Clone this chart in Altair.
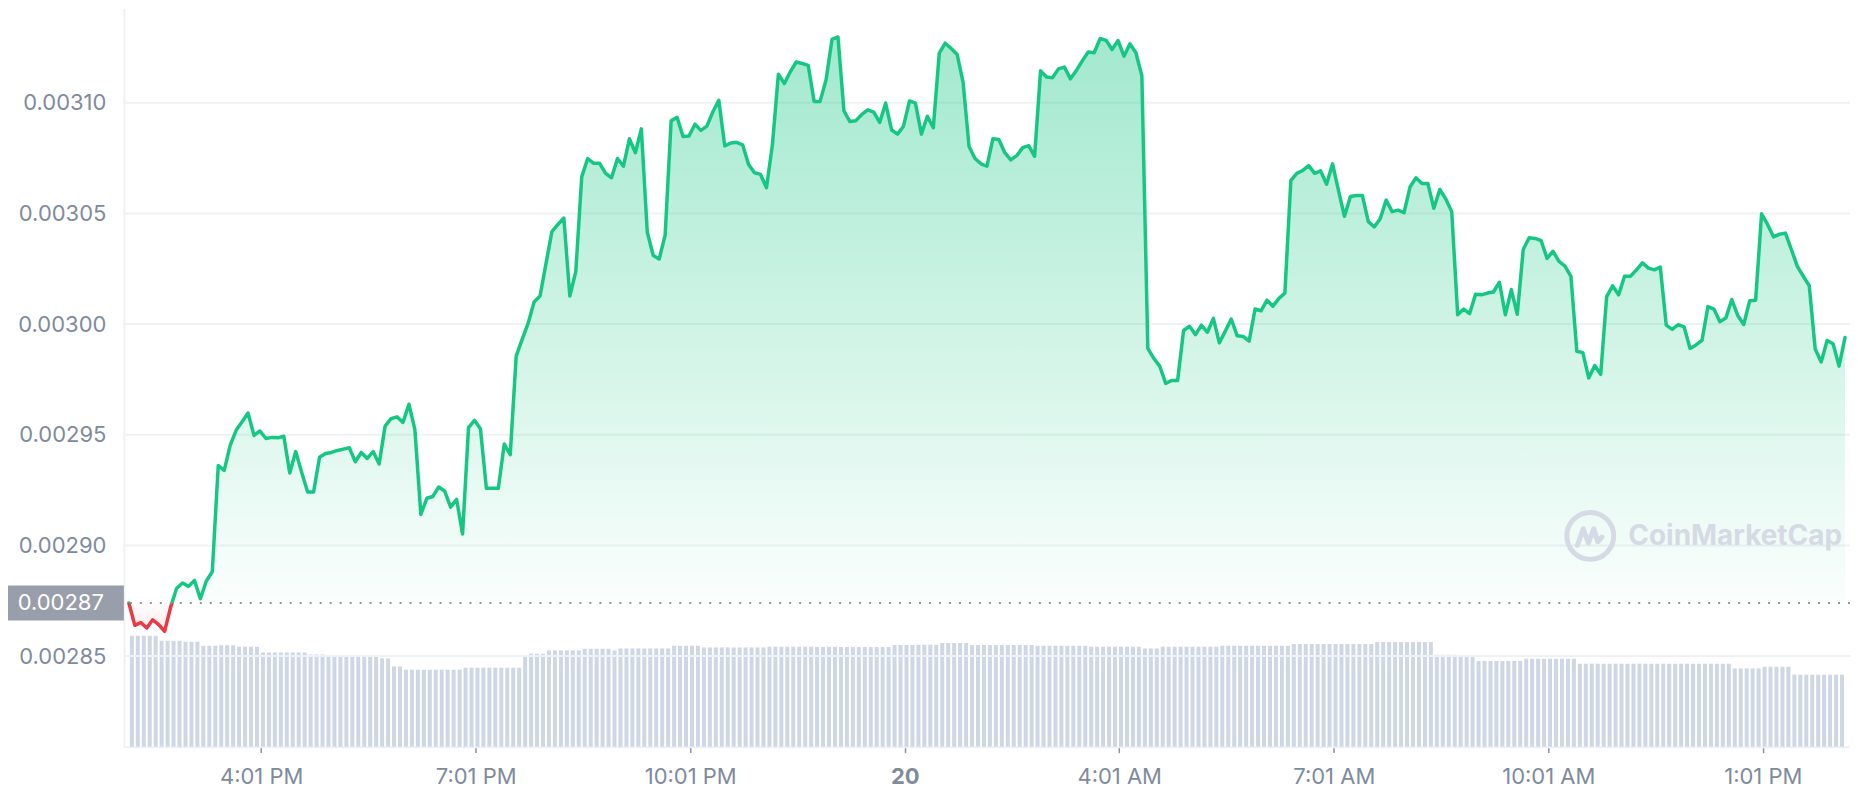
import json
import altair as alt
import pandas as pd

# ---- price series (5-minute steps, 24h) ----
prices = [
    0.0028740, 0.0028639, 0.0028652, 0.0028627, 0.0028664, 0.0028642, 0.0028612, 0.0028720, 0.0028805, 0.0028830,
    0.0028815, 0.0028842, 0.0028759, 0.0028839, 0.0028881, 0.0029361, 0.0029339, 0.0029452, 0.0029520, 0.0029559,
    0.0029598, 0.0029497, 0.0029517, 0.0029483, 0.0029488, 0.0029486, 0.0029493, 0.0029327, 0.0029424, 0.0029330,
    0.0029241, 0.0029241, 0.0029398, 0.0029415, 0.0029420, 0.0029429, 0.0029435, 0.0029441, 0.0029378, 0.0029420,
    0.0029393, 0.0029424, 0.0029368, 0.0029539, 0.0029573, 0.0029581, 0.0029556, 0.0029638, 0.0029523, 0.0029140,
    0.0029213, 0.0029221, 0.0029264, 0.0029245, 0.0029173, 0.0029208, 0.0029052, 0.0029532, 0.0029565, 0.0029527,
    0.0029258, 0.0029258, 0.0029258, 0.0029458, 0.0029410, 0.0029855, 0.0029931, 0.0030003, 0.0030100, 0.0030127,
    0.0030273, 0.0030418, 0.0030450, 0.0030479, 0.0030127, 0.0030237, 0.0030665, 0.0030748, 0.0030726, 0.0030726,
    0.0030681, 0.0030661, 0.0030748, 0.0030713, 0.0030837, 0.0030774, 0.0030882, 0.0030415, 0.0030310, 0.0030294,
    0.0030402, 0.0030918, 0.0030934, 0.0030847, 0.0030850, 0.0030903, 0.0030875, 0.0030894, 0.0030958, 0.0031011,
    0.0030805, 0.0030818, 0.0030821, 0.0030810, 0.0030721, 0.0030684, 0.0030676, 0.0030616, 0.0030810, 0.0031129,
    0.0031087, 0.0031140, 0.0031184, 0.0031177, 0.0031169, 0.0031006, 0.0031006, 0.0031103, 0.0031286, 0.0031297,
    0.0030963, 0.0030915, 0.0030919, 0.0030947, 0.0030968, 0.0030958, 0.0030911, 0.0030998, 0.0030877, 0.0030858,
    0.0030894, 0.0031008, 0.0030998, 0.0030858, 0.0030939, 0.0030887, 0.0031224, 0.0031269, 0.0031245, 0.0031218,
    0.0031092, 0.0030802, 0.0030748, 0.0030724, 0.0030713, 0.0030837, 0.0030834, 0.0030774, 0.0030742, 0.0030761,
    0.0030797, 0.0030806, 0.0030758, 0.0031144, 0.0031116, 0.0031113, 0.0031153, 0.0031161, 0.0031108, 0.0031145,
    0.0031189, 0.0031229, 0.0031226, 0.0031290, 0.0031282, 0.0031240, 0.0031281, 0.0031210, 0.0031266, 0.0031226,
    0.0031121, 0.0029890, 0.0029845, 0.0029810, 0.0029732, 0.0029745, 0.0029745, 0.0029971, 0.0029990, 0.0029952,
    0.0029995, 0.0029963, 0.0030026, 0.0029915, 0.0029968, 0.0030023, 0.0029947, 0.0029944, 0.0029923, 0.0030068,
    0.0030060, 0.0030108, 0.0030081, 0.0030116, 0.0030140, 0.0030648, 0.0030681, 0.0030694, 0.0030716, 0.0030681,
    0.0030692, 0.0030632, 0.0030724, 0.0030603, 0.0030487, 0.0030576, 0.0030581, 0.0030581, 0.0030463, 0.0030439,
    0.0030476, 0.0030560, 0.0030508, 0.0030515, 0.0030503, 0.0030619, 0.0030661, 0.0030635, 0.0030635, 0.0030523,
    0.0030608, 0.0030565, 0.0030508, 0.0030042, 0.0030068, 0.0030047, 0.0030135, 0.0030132, 0.0030140, 0.0030145,
    0.0030189, 0.0030042, 0.0030156, 0.0030044, 0.0030337, 0.0030390, 0.0030387, 0.0030377, 0.0030297, 0.0030329,
    0.0030283, 0.0030262, 0.0030216, 0.0029877, 0.0029871, 0.0029756, 0.0029813, 0.0029773, 0.0030124, 0.0030173,
    0.0030132, 0.0030216, 0.0030216, 0.0030245, 0.0030277, 0.0030253, 0.0030245, 0.0030258, 0.0029995, 0.0029976,
    0.0029998, 0.0029987, 0.0029890, 0.0029906, 0.0029926, 0.0030079, 0.0030068, 0.0030011, 0.0030027, 0.0030111,
    0.0030039, 0.0029998, 0.0030105, 0.0030108, 0.0030498, 0.0030450, 0.0030394, 0.0030406, 0.0030411, 0.0030337,
    0.0030261, 0.0030216, 0.0030173, 0.0029887, 0.0029829, 0.0029926, 0.0029911, 0.0029810, 0.0029939,
]
step_minutes = 5
baseline = 0.002874  # opening price (dotted reference line)

# ---- volume bars (relative 24h volume), run-length: (number of bars, level) ----
volume_runs = [
    (5, 111), (4, 106), (3, 105), (3, 101), (3, 101.5), (4, 100), (8, 94.3), (3, 92.3),
    (9, 90.3), (2, 88.3), (2, 80.3), (10, 77), (10, 79), (1, 90.3), (3, 93), (6, 96.3),
    (5, 98), (1, 96.3), (9, 98.3), (5, 101), (11, 99.3), (8, 100), (13, 99.7), (4, 101.7),
    (4, 102), (5, 103.7), (11, 101.7), (9, 101), (9, 100), (3, 98.3), (10, 100), (12, 101),
    (14, 102.7), (10, 104.7), (4, 92), (3, 90), (8, 85.7), (9, 88), (26, 83), (5, 78.3),
    (5, 80), (9, 72),
]

# ---- axis ticks ----
tick_minutes = [111, 291, 471, 651, 831, 1011, 1191, 1371]
tick_labels = ["4:01 PM", "7:01 PM", "10:01 PM", "20", "4:01 AM", "7:01 AM", "10:01 AM", "1:01 PM"]
y_ticks = [0.00285, 0.00290, 0.00295, 0.00300, 0.00305, 0.00310]

# ---- tables ----
price_df = pd.DataFrame({
    "minute": [i * step_minutes for i in range(len(prices))],
    "price": prices,
    "base": [baseline] * len(prices),
})
volumes = [v for n, v in volume_runs for _ in range(n)]
vol_df = pd.DataFrame({
    "minute": [i * step_minutes + step_minutes / 2 for i in range(len(volumes))],
    "volume": volumes,
})
grid_df = pd.DataFrame({"tick": y_ticks})
base_df = pd.DataFrame({"base": [baseline]})

GREEN = "#16C784"
RED = "#EA3943"
LABEL = "#808A9D"
GRID = "#EFF2F5"

W, H = 1728, 739
x_scale = alt.Scale(domain=[0, 1440], nice=False, zero=False)
y_scale = alt.Scale(domain=[0.0028091, 0.0031426], nice=False, zero=False)

label_expr = "{}[indexof({}, datum.value)]".format(json.dumps(tick_labels), json.dumps(tick_minutes))
day_tick = tick_minutes[tick_labels.index("20")]

x_axis = alt.Axis(
    values=tick_minutes, labelExpr=label_expr, grid=False, title=None,
    domain=True, domainColor=GRID, domainWidth=2,
    ticks=True, tickColor="#8A92A6", tickSize=6, tickWidth=1.5,
    labelFont="Inter", labelFontSize=22, labelColor=LABEL, labelPadding=14,
    labelFlush=False, labelOverlap=False,
    labelFontWeight={"condition": {"test": f"datum.value == {day_tick}", "value": "bold"}, "value": "normal"},
)
y_axis = alt.Axis(
    values=y_ticks, format=".5f", grid=False, title=None,
    ticks=False, tickSize=0, domain=True, domainColor=GRID, domainWidth=2,
    labelFont="Inter", labelFontSize=22, labelColor=LABEL, labelPadding=18,
    labelFlush=False, labelOverlap=False,
)

pmax, pmin = max(prices), min(prices)
off = (pmax - baseline) / (pmax - pmin)

fill_grad = alt.LinearGradient(
    gradient="linear", x1=0, y1=0, x2=0, y2=1,
    stops=[
        alt.GradientStop(color="rgba(22,199,132,0.40)", offset=0),
        alt.GradientStop(color="rgba(22,199,132,0.02)", offset=off),
        alt.GradientStop(color="rgba(234,57,67,0.01)", offset=off),
        alt.GradientStop(color="rgba(234,57,67,0.10)", offset=1),
    ],
)
line_grad = alt.LinearGradient(
    gradient="linear", x1=0, y1=0, x2=0, y2=1,
    stops=[
        alt.GradientStop(color=GREEN, offset=0),
        alt.GradientStop(color=GREEN, offset=off),
        alt.GradientStop(color=RED, offset=off),
        alt.GradientStop(color=RED, offset=1),
    ],
)

X = alt.X("minute:Q", scale=x_scale, axis=x_axis)

bars = alt.Chart(vol_df).mark_bar(size=4, color="#CFD6E4").encode(
    x=X,
    y=alt.Y("volume:Q", scale=alt.Scale(domain=[0, H], nice=False), axis=None),
)

grid = alt.Chart(grid_df).mark_rule(color=GRID, strokeWidth=2).encode(
    y=alt.Y("tick:Q", scale=y_scale, axis=y_axis),
)

area = alt.Chart(price_df).mark_area(color=fill_grad, interpolate="linear").encode(
    x=X,
    y=alt.Y("price:Q", scale=y_scale, axis=y_axis),
    y2="base:Q",
)

line = alt.Chart(price_df).mark_line(
    stroke=line_grad, strokeWidth=3.5, strokeJoin="round", strokeCap="round", interpolate="linear"
).encode(
    x=X,
    y=alt.Y("price:Q", scale=y_scale, axis=y_axis),
)

base_rule = alt.Chart(base_df).mark_rule(color="#8F96A3", strokeWidth=2, strokeDash=[2, 8]).encode(
    y=alt.Y("base:Q", scale=y_scale, axis=y_axis),
)

base_box = alt.Chart(base_df).mark_rect(color="#999EAB", yOffset=-17.5, y2Offset=17.5).encode(
    x=alt.value(-122), x2=alt.value(0),
    y=alt.Y("base:Q", scale=y_scale, axis=y_axis), y2="base:Q",
)

base_text = alt.Chart(base_df).mark_text(
    align="right", baseline="middle", font="Inter", fontSize=22, color="white"
).encode(
    x=alt.value(-20),
    y=alt.Y("base:Q", scale=y_scale, axis=y_axis),
    text=alt.Text("base:Q", format=".5f"),
)

wm_df = pd.DataFrame({"t": ["CoinMarketCap"]})
wm_text = alt.Chart(wm_df).mark_text(
    align="left", baseline="middle", font="Inter", fontSize=28, fontWeight=700, color="#D5DAE4"
).encode(x=alt.value(1506), y=alt.value(529), text="t:N")
wm_circle = alt.Chart(wm_df).mark_point(
    shape="circle", filled=False, size=2200, strokeWidth=5, color="#D5DAE4", opacity=1
).encode(x=alt.value(1468), y=alt.value(528))
wm_m = alt.Chart(wm_df).mark_point(
    shape="M -0.55 0.4 L -0.3 -0.3 L -0.08 0.3 L 0.15 -0.3 L 0.32 0.25 L 0.5 0.05",
    filled=False, size=2200, strokeWidth=5, color="#D5DAE4", opacity=1,
    strokeJoin="round", strokeCap="round",
).encode(x=alt.value(1468), y=alt.value(528))

inner = alt.layer(grid, area, line, base_rule, base_box, base_text, wm_circle, wm_m, wm_text)

chart = alt.layer(bars, inner).resolve_scale(y="independent").properties(
    width=W, height=H,
    autosize=alt.AutoSizeParams(type="none"),
    padding={"left": 116, "top": 0, "right": 0, "bottom": 52},
    background="white",
).configure_view(stroke=None)

chart.save("out.html", embed_options={"renderer": "svg", "actions": False})
